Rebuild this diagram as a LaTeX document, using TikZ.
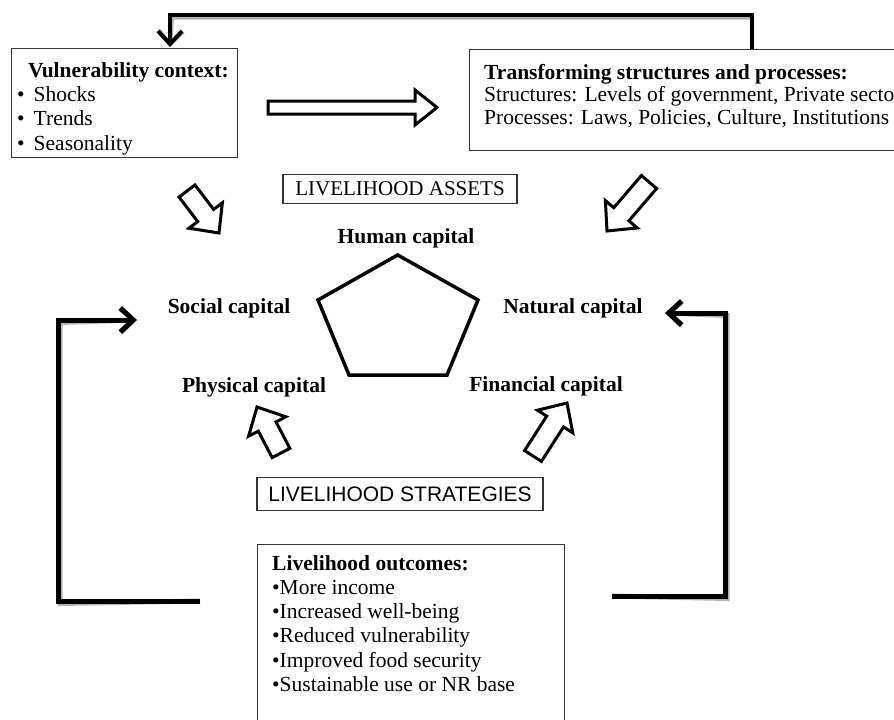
\documentclass[tikz,border=0pt]{standalone}
\usepackage{fontspec}
\setmainfont{Liberation Serif}
\newfontfamily\arialfont{Liberation Sans}
\usetikzlibrary{arrows.meta,calc}

\tikzset{
  box/.style={draw=black!80, line width=1.2pt, inner sep=0pt},
  txt/.style={anchor=base west, inner sep=0pt, font=\fontsize{21.5}{24}\selectfont},
  btxt/.style={anchor=base west, inner sep=0pt, font=\fontsize{21.5}{24}\selectfont\bfseries},
  caplabel/.style={anchor=base, inner sep=0pt, font=\fontsize{21.5}{24}\selectfont\bfseries},
  fbarrow/.style={line width=5pt, line join=miter, -{Straight Barb[length=13pt,width=24pt]}},
  fbshadow/.style={fbarrow, draw=black!30},
  hollowarr/.style={draw=black, line width=3pt, fill=white, line join=miter},
  pent/.style={draw=black, line width=3.5pt, line join=miter},
}

\newcommand\hollowarrow[7]{%
  \pgfmathsetmacro\hwA{atan2(-((#4)-(#2)),(#3)-(#1))}%
  \pgfmathsetmacro\hwL{veclen((#3)-(#1),(#4)-(#2))}%
  \pgfmathsetmacro\hwB{\hwL-(#7)}%
  \begin{scope}[shift={(#1,#2)},rotate=\hwA]
    \draw[hollowarr] (0,-#5)--(\hwB,-#5)--(\hwB,-#6)--(\hwL,0)--(\hwB,#6)--(\hwB,#5)--(0,#5)--cycle;
  \end{scope}}
\newcommand\vbul{•\hspace{9pt}}

\begin{document}
\begin{tikzpicture}[x=1pt,y=-1pt]
\clip (0,0) rectangle (894,720);
\fill[white] (0,0) rectangle (894,720);

% boxes
\node[box, anchor=north west, minimum width=226pt, minimum height=109pt] (vuln) at (11,48) {};
\node[box, anchor=north west, minimum width=450pt, minimum height=101pt] (trans) at (469,49) {};
\node[box, minimum width=234pt, minimum height=29pt, font=\fontsize{21}{24}\selectfont] (assets) at (400,189) {LIVELIHOOD ASSETS};
\node[box, minimum width=286pt, minimum height=33pt, font=\fontsize{21}{24}\selectfont\arialfont] (strat) at (400,494) {LIVELIHOOD STRATEGIES};
\node[box, anchor=north west, minimum width=307pt, minimum height=200pt] (outc) at (257,544) {};

% vulnerability text
\node[btxt] (vt0) at (28,77) {Vulnerability context:};
\node[txt] (vt1) at (17,101.3) {\vbul Shocks};
\node[txt] (vt2) at (17,125.6) {\vbul Trends};
\node[txt] (vt3) at (17,150) {\vbul Seasonality};

% transforming text
\node[btxt] (tt0) at (484,79) {Transforming structures and processes:};
\node[txt] (tt1) at (484,101.5) {Structures: Levels of government, Private sector};
\node[txt] (tt2) at (484,124) {Processes: Laws, Policies, Culture, Institutions};

% outcomes text
\node[btxt] (ot0) at (272,570) {Livelihood outcomes:};
\node[txt] (ot1) at (272,594.3) {•More income};
\node[txt] (ot2) at (272,618.6) {•Increased well-being};
\node[txt] (ot3) at (272,642.9) {•Reduced vulnerability};
\node[txt] (ot4) at (272,667.2) {•Improved food security};
\node[txt] (ot5) at (272,691.5) {•Sustainable use or NR base};

% capital labels
\node[caplabel] (human) at (406,243) {Human capital};
\node[caplabel] (social) at (229,313) {Social capital};
\node[caplabel] (natural) at (573,313) {Natural capital};
\node[caplabel] (physical) at (254,392) {Physical capital};
\node[caplabel] (financial) at (546,391) {Financial capital};

% pentagon
\coordinate (p1) at (397.7,255);
\coordinate (p2) at (478,300);
\coordinate (p3) at (447,375);
\coordinate (p4) at (349,375);
\coordinate (p5) at (318,300);
\draw[pent] (p1) -- (p2) -- (p3) -- (p4) -- (p5) -- cycle;

% hollow block arrows
\hollowarrow{268}{107.5}{437}{107.5}{6.5}{17.5}{22}
\hollowarrow{187}{191}{219}{233}{10}{21}{22}
\hollowarrow{649}{182}{607}{231}{10}{21}{22}
\hollowarrow{281}{453}{257}{407}{10}{21}{22}
\hollowarrow{533}{456}{567}{403}{10}{21}{22}

% feedback connectors
\coordinate (topR) at (752,49);
\coordinate (topL) at (170,47);
\coordinate (leftS) at (200,601);
\coordinate (leftE) at (137,320);
\coordinate (rightS) at (612,596);
\coordinate (rightE) at (665,313);

\begin{scope}[shift={(2,2.5)}]
\draw[fbshadow, line width=4pt] (topR) |- (170,15) -- (topL);
\draw[fbshadow] (leftS) -- (58,601) -- (58,320) -- (leftE);
\draw[fbshadow] (rightS) -- (725,596) -- (725,313) -- (rightE);
\end{scope}
\draw[fbarrow, line width=4pt] (topR) |- (170,15) -- (topL);
\draw[fbarrow] (leftS) -- (58,601) -- (58,320) -- (leftE);
\draw[fbarrow] (rightS) -- (725,596) -- (725,313) -- (rightE);
\end{tikzpicture}
\end{document}
